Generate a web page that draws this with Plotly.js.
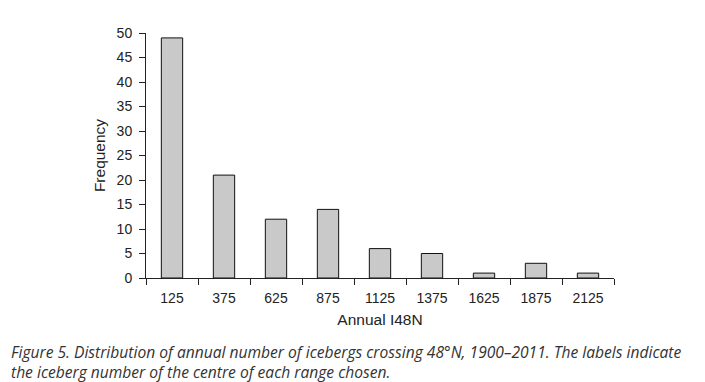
<!DOCTYPE html>
<html>
<head>
<meta charset="utf-8">
<script src="https://cdn.plot.ly/plotly-3.0.1.min.js"></script>
<style>html,body{margin:0;padding:0;background:#fff;}#chart{width:705px;height:382px;}</style>
</head>
<body>
<div id="chart"></div>
<script>
var binCentres = [125, 375, 625, 875, 1125, 1375, 1625, 1875, 2125];
var binEdges = [0, 250, 500, 750, 1000, 1250, 1500, 1750, 2000, 2250];
var tickLabels = ["125", "375", "625", "875", "1125", "1375", "1625", "1875", "2125"];
var frequency = [49, 21, 12, 14, 6, 5, 1, 3, 1];

var font = "Liberation Sans, Arial, Helvetica, sans-serif";

var trace = {
  type: "bar",
  x: binCentres,
  y: frequency,
  marker: {color: "#c9c9c9", line: {color: "#111", width: 1}},
  hoverinfo: "x+y"
};

var layout = {
  width: 705, height: 382,
  margin: {l: 146, r: 91, t: 33, b: 104},
  paper_bgcolor: "#fff", plot_bgcolor: "#fff",
  showlegend: false,
  bargap: 0.59,
  font: {family: font, size: 14, color: "#222"},
  xaxis: {
    range: [0, 2250],
    tickvals: binEdges,
    ticktext: binEdges.map(function(){return "";}),
    ticks: "outside", ticklen: 6, tickwidth: 1, tickcolor: "#222",
    showline: true, linecolor: "#222", linewidth: 1,
    showgrid: false, zeroline: false, fixedrange: true
  },
  xaxis2: {
    overlaying: "x", matches: "x", side: "bottom",
    range: [0, 2250],
    tickvals: binCentres, ticktext: tickLabels,
    ticks: "outside", ticklen: 7, tickcolor: "rgba(0,0,0,0)",
    tickfont: {family: font, size: 14, color: "#222"},
    showline: false, showgrid: false, zeroline: false,
    title: {text: "Annual I48N", font: {family: font, size: 15.5, color: "#222"}, standoff: 9}
  },
  yaxis: {
    range: [0, 50], dtick: 5, tick0: 0,
    ticks: "outside", ticklen: 6, tickwidth: 1, tickcolor: "#222",
    ticklabelstandoff: 4,
    showline: true, linecolor: "#222", linewidth: 1,
    showgrid: false, zeroline: false,
    tickfont: {family: font, size: 14, color: "#222"},
    title: {text: "Frequency", font: {family: font, size: 15.5, color: "#222"}, standoff: 7}
  },
  annotations: [{
    xref: "paper", yref: "paper",
    x: (9 - 146) / 468, y: (278 - 339) / 245,
    xanchor: "left", yanchor: "top", align: "left",
    showarrow: false,
    text: "<i>Figure 5. Distribution of annual number of icebergs crossing 48°N, 1900–2011. The labels indicate<br>the iceberg number of the centre of each range chosen.</i>",
    font: {family: "Open Sans, sans-serif", size: 15.6, color: "#333"}
  }]
};

var trace2 = {type: "scatter", x: [125], y: [0], xaxis: "x2", mode: "markers", marker: {opacity: 0}, hoverinfo: "skip"};

Plotly.newPlot("chart", [trace, trace2], layout, {displayModeBar: false, staticPlot: true});
</script>
</body>
</html>
